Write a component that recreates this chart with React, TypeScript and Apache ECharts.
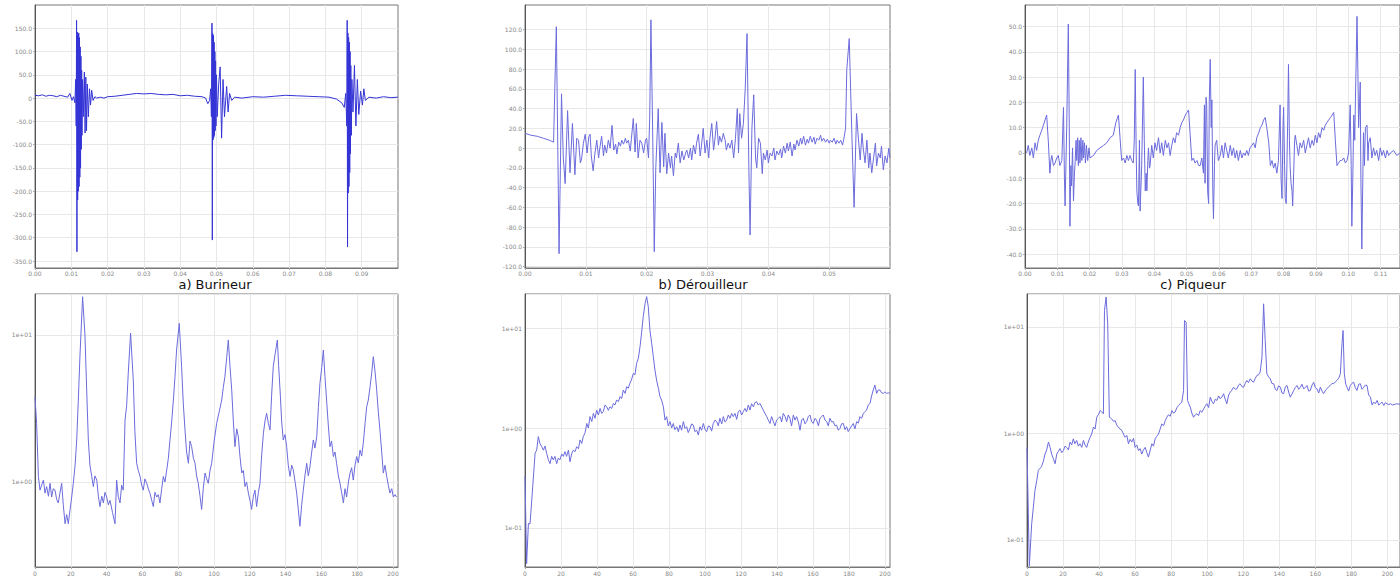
import React, { useEffect, useRef } from "react";
import * as echarts from "echarts";

// ---- Top row: time signals (t in ms, amplitude) ----
const burineur: number[][] = [
  [0,6],[1,5],[2,7],[3,4],[4,6],[5,5],[6,3],[7,6],[8,4],[9,2],[9.6,10],[10.2,-5],[10.6,3],
  [11.0,-10],[11.2,40],[11.35,-60],[11.45,167],[11.55,-330],[11.65,142],[11.75,-219],[11.85,135],[11.95,-200],
  [12.05,140],[12.15,-190],[12.25,130],[12.35,-170],[12.45,110],[12.55,-150],[12.65,90],[12.75,-110],[12.85,60],
  [12.95,-80],[13.1,40],[13.3,-40],[13.6,56],[13.8,-75],[14.0,45],[14.2,-70],[14.4,30],[14.7,-40],[15.0,20],
  [15.3,-15],[15.6,17],[16.0,-5],[16.5,3],[17,0],[18,2],[19,0],[20,3],[22,4],[24,6],[26,8],[28,10],[30,9],
  [32,10],[34,8],[36,7],[38,8],[40,5],[42,6],[44,4],[46,3],[47,0],[47.6,-12],[48.1,-5],
  [48.4,20],[48.6,-40],[48.75,161],[48.85,-305],[48.95,139],[49.05,-90],[49.15,135],[49.25,-85],[49.35,120],
  [49.45,-80],[49.55,100],[49.65,-70],[49.75,80],[49.85,-60],[50.0,50],[50.2,-40],[50.6,30],[51.0,67],[51.4,-86],
  [51.8,40],[52.2,-40],[52.8,25],[53.2,-30],[53.6,10],[54.2,-5],[55,2],[57,0],[60,3],[63,2],[66,4],[69,6],
  [72,5],[75,4],[78,3],[81,2],[83,-2],[84.5,-10],[85.2,-20],[85.6,10],
  [85.9,-60],[86.0,167],[86.1,-320],[86.2,140],[86.3,-204],[86.4,130],[86.5,-190],[86.6,120],[86.7,-160],
  [86.8,100],[86.9,-120],[87.0,70],[87.15,-80],[87.3,40],[87.6,-30],[88.0,70],[88.4,-60],[88.8,40],[89.2,-35],
  [89.7,15],[90.2,-15],[90.6,20],[91.0,-5],[92,2],[94,0],[96,3],[98,1],[100,2]
];

const derouilleur: number[][] = [
  [0,15],[1,13],[2,12],[3,10],[4,8],[4.7,6],[4.9,60],[5.15,123],[5.6,-107],[6.0,55],[6.3,-10],[6.6,-36],[7.0,38],
  [7.4,-25],[7.8,25],[8.2,-27],[8.5,10],[8.8,8],[9.1,-15],[9.3,-11],[9.6,5],[9.9,14],[10.2,-5],[10.5,12],[10.7,14],
  [10.9,-8],[11.2,-23],[11.5,-5],[11.8,8],[12.1,-10],[12.3,0],[12.6,12],[12.9,-8],[13.1,3],[13.4,-5],[13.7,8],
  [14.0,0],[14.3,23],[14.6,-2],[14.9,4],[15.1,-6],[15.4,6],[15.7,2],[15.9,8],[16.2,4],[16.5,10],[16.7,5],[17.0,8],
  [17.3,-3],[17.5,10],[17.8,30],[18.1,-4],[18.3,25],[18.6,-10],[18.9,8],[19.2,5],[19.5,-5],[19.8,8],[20.0,10],
  [20.3,-10],[20.5,30],[20.7,130],[21.0,10],[21.25,-105],[21.5,-20],[21.7,10],[21.9,40],[22.2,-25],[22.5,26],
  [22.8,-19],[23.0,15],[23.3,-26],[23.6,-5],[23.9,-20],[24.1,-8],[24.4,-28],[24.7,-5],[24.9,-10],[25.2,5],
  [25.5,-15],[25.8,-3],[26.1,-12],[26.4,-5],[26.6,-2],[26.9,-10],[27.2,0],[27.4,-12],[27.7,3],[28.0,-6],[28.2,5],
  [28.5,14],[28.8,-8],[29.0,2],[29.3,20],[29.6,-5],[29.9,8],[30.2,-10],[30.4,10],[30.7,25],[31.0,-2],[31.2,8],
  [31.5,27],[31.8,3],[32.0,12],[32.3,6],[32.6,15],[32.9,8],[33.1,-2],[33.4,5],[33.7,0],[34.0,8],[34.3,-10],
  [34.6,10],[34.9,40],[35.1,-5],[35.3,35],[35.6,10],[35.9,25],[36.2,60],[36.5,116],[36.8,-20],[37.0,-88],[37.3,20],
  [37.6,54],[37.9,-10],[38.1,-20],[38.4,10],[38.7,5],[39.0,-26],[39.2,-5],[39.5,-12],[39.8,-2],[40.0,-15],
  [40.3,-5],[40.6,-8],[40.9,0],[41.1,-12],[41.4,-3],[41.7,-7],[42.0,-1],[42.2,-10],[42.5,2],[42.8,-5],[43.1,5],
  [43.3,-3],[43.6,6],[43.9,-8],[44.2,4],[44.4,-2],[44.7,8],[45.0,2],[45.3,10],[45.5,4],[45.8,12],[46.1,3],
  [46.4,9],[46.6,5],[46.9,12],[47.2,6],[47.5,11],[47.7,4],[48.0,10],[48.3,8],[48.6,13],[48.8,7],[49.1,10],
  [49.4,6],[49.7,9],[50.0,5],[50.2,8],[50.5,6],[50.8,10],[51.1,4],[51.3,8],[51.6,5],[51.9,8],[52.2,3],[52.4,9],
  [52.7,20],[52.9,80],[53.3,111],[53.7,20],[54.1,-60],[54.5,35],[54.8,10],[55.1,-12],[55.4,15],[55.6,0],
  [55.9,-15],[56.2,8],[56.5,-20],[56.7,-5],[57.0,-25],[57.3,-10],[57.6,5],[57.8,-18],[58.1,-5],[58.4,-10],
  [58.6,2],[58.9,-22],[59.2,-8],[59.5,-15],[59.8,0],[60,-10]
];

const piqueur: number[][] = [
  [0.5,0],[1.0,3],[1.5,-1],[2.1,2],[2.6,-2],[3.1,4],[3.6,1],[4.1,5],[4.6,7],[5.2,9],[5.7,11],[6.2,13],[6.7,15],
  [7.2,5],[7.7,-8],[8.0,-3],[8.3,-1],[8.8,-5],[9.3,-4],[9.8,-2],[10.3,-1],[10.8,-5],[11.4,-3],[11.9,18],[12.2,-10],
  [12.4,-21],[12.9,10],[13.4,51],[13.7,10],[13.9,-29],[14.2,-5],[14.4,-13],[14.7,2],[15.0,-19],[15.3,-8],[15.5,-4],
  [15.8,5],[16.0,-3],[16.3,6],[16.5,-5],[16.8,5],[17.0,-4],[17.3,6],[17.6,-3],[17.9,5],[18.1,-2],[18.4,4],
  [18.7,-4],[19.0,3],[19.4,-3],[19.8,2],[20.1,-2],[21.2,-1],[22.2,1],[23.2,2],[24.3,3],[25.3,4],[26.3,6],[27.3,7],
  [28.1,12],[28.9,15],[29.4,6],[29.9,-3],[30.5,-2],[31.0,-4],[31.5,-1],[32.0,-3],[32.5,-1],[33.0,-3],[33.5,-4],
  [33.8,5],[34.1,33],[34.4,0],[34.6,-15],[34.9,-20],[35.1,-21],[35.4,5],[35.6,-23],[36.1,-5],[36.6,30],[36.9,5],
  [37.2,-15],[37.5,-8],[37.7,-15],[38.0,-3],[38.2,2],[38.5,-6],[38.7,-5],[39.2,3],[39.7,-2],[40.2,4],[40.7,1],
  [41.3,6],[41.8,0],[42.3,4],[42.8,-1],[43.4,5],[43.9,2],[44.4,4],[44.9,-1],[45.4,3],[45.9,6],[46.4,4],[46.9,8],
  [47.5,7],[48.0,10],[48.5,12],[49.0,13],[49.6,15],[50.1,16],[50.6,17],[51.1,7],[51.6,-3],[52.1,-2],[52.6,-4],
  [53.2,-3],[53.7,-5],[54.2,-5],[54.7,-2],[55.2,-8],[55.5,19],[55.7,-12],[56.0,22],[56.2,19],[56.5,-15],
  [56.8,-20],[57.0,20],[57.3,37],[57.6,10],[57.8,21],[58.1,-15],[58.3,-26],[58.6,-5],[58.8,3],[59.3,5],[59.8,-3],
  [60.4,-1],[60.9,3],[61.4,-2],[61.9,4],[62.4,1],[62.9,-2],[63.5,3],[64.0,-1],[64.5,2],[65.0,-2],[65.5,1],
  [66.0,-3],[66.6,1],[67.1,-2],[67.6,0],[68.1,-1],[68.6,1],[69.1,-1],[69.6,2],[70.2,3],[70.7,4],[71.2,2],
  [71.7,6],[72.3,8],[72.8,10],[73.3,11],[73.8,13],[74.3,14],[74.8,10],[75.4,4],[75.9,-5],[76.4,-3],[76.9,-6],
  [77.4,-4],[77.9,-8],[78.4,-3],[78.9,19],[79.2,-10],[79.5,-18],[79.8,10],[80.0,18],[80.3,-5],[80.5,-18],
  [80.8,-20],[81.0,-20],[81.3,15],[81.5,35],[81.8,5],[82.0,-5],[82.3,-12],[82.6,-15],[82.8,-21],[83.1,-8],
  [83.4,5],[83.6,7],[84.1,3],[84.6,-1],[85.1,4],[85.6,2],[86.2,5],[86.7,0],[87.2,3],[87.7,6],[88.2,2],[88.8,5],
  [89.3,3],[89.8,7],[90.3,4],[90.8,8],[91.3,6],[91.9,10],[92.4,9],[92.9,11],[93.4,12],[93.9,13],[94.5,14],
  [95.0,15],[95.5,16],[96.0,5],[96.5,-5],[97.0,-4],[97.5,-3],[98.0,-3],[98.6,-2],[99.1,-4],[99.6,-3],[100.1,0],
  [100.6,19],[100.9,-5],[101.1,-29],[101.4,-10],[101.7,15],[102.0,5],[102.2,20],[102.5,40],[102.7,54],[103.0,30],
  [103.2,10],[103.5,20],[103.7,28],[103.9,-10],[104.2,-38],[104.5,-10],[104.7,8],[105.0,-5],[105.3,10],[105.8,11],
  [106.1,-3],[106.3,4],[106.8,6],[107.3,-2],[107.8,2],[108.3,-1],[108.8,1],[109.4,-3],[109.9,2],[110.4,-1],
  [110.9,1],[111.5,-2],[112.0,1],[112.5,-1],[113.0,0],[114,1],[115,-1],[116,0]
];

// ---- Bottom row: spectra (frequency, magnitude on log scale) ----
const spectreBurineur: number[][] = [
  [0,3.8],[0.9,2.5],[1.9,1.09],[2.8,0.88],[3.8,0.96],[4.7,1.03],[5.6,0.84],[6.5,0.93],[7.5,0.8],[8.4,0.98],[9.3,0.79],
  [10.2,0.9],[11.2,0.88],[12.1,0.76],[13.0,0.72],[14.0,0.85],[14.9,0.98],[15.8,0.7],[16.8,0.52],[17.7,0.6],[18.6,0.52],
  [19.6,0.65],[20.5,0.79],[21.4,0.98],[22.4,1.3],[23.3,1.93],[24.2,3.6],[25.1,7.12],[26.6,18.2],[27.9,10],[28.8,4.5],
  [29.8,1.93],[30.7,1.3],[31.7,1.09],[32.6,0.93],[33.5,1.1],[34.5,1.03],[35.4,0.8],[36.3,0.68],[37.3,0.8],[38.2,0.72],
  [39.1,0.85],[40.0,0.79],[41.0,0.7],[41.9,0.75],[43.3,0.62],[44.7,0.52],[45.6,1.03],[46.5,0.8],[47.5,0.72],
  [48.4,0.95],[49.3,0.88],[50.3,2.64],[51.2,3.3],[52.1,5.49],[53.4,10.3],[54.9,4.94],[55.8,2.2],[56.8,1.34],
  [57.7,1.2],[58.7,1.09],[59.6,0.95],[60.5,0.88],[61.4,1.05],[62.4,0.98],[63.3,0.9],[64.2,0.84],[65.2,0.75],
  [66.1,0.68],[67.0,0.85],[68.0,0.79],[68.9,0.82],[69.8,0.72],[70.8,0.9],[71.7,1.09],[72.6,1.0],[73.6,1.21],
  [74.5,1.45],[75.4,1.93],[76.4,2.6],[77.3,3.61],[78.2,5.2],[79.1,7.9],[80.6,12.0],[81.9,6.09],[82.8,3.5],
  [83.8,2.26],[84.7,1.6],[85.7,1.34],[86.6,1.9],[87.5,1.74],[88.5,1.45],[89.4,1.34],[90.3,1.1],[91.2,0.98],
  [92.2,0.8],[93.1,0.65],[94.0,0.9],[95.0,1.15],[95.9,1.05],[96.8,0.98],[97.8,1.2],[98.7,1.34],[100.1,1.9],
  [101.5,2.51],[102.9,3.0],[104.3,3.61],[105.2,4.4],[106.1,5.21],[107.1,7.0],[108.0,9.25],[108.9,6.2],[109.9,4.23],
  [110.8,2.6],[111.7,1.74],[112.7,2.3],[113.6,2.03],[114.5,1.5],[115.5,1.15],[116.4,1.2],[117.3,0.93],[118.2,1.0],
  [119.2,0.84],[120.1,0.75],[121.0,0.65],[122.0,0.8],[122.9,0.88],[123.8,0.68],[124.8,0.85],[125.7,0.98],
  [126.6,1.5],[127.6,2.14],[128.5,2.6],[129.4,2.93],[130.4,2.5],[131.3,2.26],[132.2,3.9],[133.1,6.09],[134.2,7.5],
  [135.4,9.25],[136.1,6.2],[136.9,4.23],[137.8,2.6],[138.7,1.93],[139.7,2.1],[140.6,1.74],[141.5,1.3],[142.5,1.09],
  [143.4,1.3],[144.3,1.21],[145.3,1.0],[146.2,0.84],[147.1,0.65],[148.0,0.5],[149.0,0.7],[149.9,0.88],[150.8,1.1],
  [151.8,1.34],[152.7,1.1],[153.6,1.27],[154.6,1.6],[155.5,1.93],[156.4,1.7],[157.4,2.03],[158.3,3.2],[159.2,4.69],
  [160.2,6.0],[161.1,7.9],[162.0,5.2],[162.9,3.61],[163.9,2.4],[164.8,1.74],[165.7,1.9],[166.7,1.49],[167.6,1.6],
  [168.5,1.34],[169.5,1.1],[170.4,0.98],[171.3,0.85],[172.3,0.72],[173.2,0.9],[174.1,0.79],[175.1,1.0],[176.0,1.15],
  [176.9,1.25],[177.8,1.03],[178.8,1.3],[179.7,1.49],[180.6,1.35],[181.6,1.65],[182.5,1.5],[183.4,1.83],
  [184.4,2.5],[185.3,3.25],[186.2,3.6],[187.2,4.45],[188.1,5.5],[189.0,7.12],[190.0,5.6],[190.9,4.23],[191.8,3.0],
  [192.7,2.26],[193.7,1.6],[194.6,1.15],[195.5,1.3],[196.5,1.09],[197.4,0.95],[198.3,0.84],[199.3,0.9],
  [200.2,0.79],[201.1,0.82],[202.0,0.79]
];

const spectreDerouilleur: number[][] = [
  [0,0.33],[0.9,0.044],[1.9,0.111],[2.8,0.11],[4.3,0.26],[5.6,0.56],[6.5,0.60],[7.4,0.82],[8.3,0.70],[9.3,0.65],
  [10.2,0.60],[11.1,0.66],[12.0,0.56],[13.0,0.48],[13.9,0.44],[14.8,0.52],[15.7,0.48],[16.6,0.52],[17.6,0.44],
  [18.5,0.50],[19.4,0.48],[20.4,0.55],[21.3,0.52],[22.2,0.58],[23.1,0.52],[24.1,0.60],[25.0,0.46],[26.0,0.56],
  [26.9,0.60],[27.8,0.58],[28.7,0.65],[29.7,0.62],[30.6,0.76],[31.5,0.70],[32.4,0.82],[33.4,0.90],[34.3,1.11],
  [35.2,1.00],[36.1,1.30],[37.1,1.16],[38.0,1.40],[38.9,1.25],[39.8,1.51],[40.8,1.35],[41.7,1.57],[42.6,1.40],
  [43.5,1.46],[44.5,1.70],[45.4,1.63],[46.3,1.50],[47.2,1.63],[48.2,1.57],[49.1,1.76],[50.0,1.70],[50.9,1.91],
  [51.9,1.83],[52.8,2.06],[53.7,1.97],[54.6,2.40],[55.6,2.22],[56.5,2.59],[57.4,2.50],[58.3,2.80],[59.3,3.10],
  [60.2,3.52],[61.1,3.40],[62.0,4.43],[63.0,5.0],[63.9,6.5],[64.8,9.0],[65.7,13.0],[66.7,17.5],[67.6,20.6],
  [68.5,16.3],[69.4,9.55],[70.4,7.0],[71.3,5.17],[72.2,3.8],[73.1,3.02],[74.1,2.5],[75.0,2.06],[75.9,1.9],
  [76.9,1.63],[77.8,1.20],[78.7,1.30],[79.6,1.05],[80.6,1.16],[81.5,1.00],[82.4,1.11],[83.3,0.96],[84.3,1.03],
  [85.2,0.92],[86.1,1.07],[87.0,0.95],[88.0,1.16],[88.9,0.99],[89.8,1.03],[90.7,0.90],[91.7,0.99],[92.6,1.10],
  [93.5,1.07],[94.4,0.92],[95.4,0.95],[96.3,0.85],[97.2,1.03],[98.1,0.95],[99.1,1.11],[100.0,0.97],[100.9,0.92],
  [101.9,1.05],[102.8,1.03],[103.7,0.93],[104.6,1.11],[105.6,1.20],[106.5,1.16],[107.4,1.05],[108.3,1.25],
  [109.3,1.10],[110.2,1.30],[111.1,1.15],[112.0,1.20],[113.0,1.35],[113.9,1.25],[114.8,1.40],[115.7,1.30],
  [116.7,1.40],[117.6,1.22],[118.5,1.46],[119.4,1.51],[120.4,1.35],[121.3,1.46],[122.2,1.57],[123.1,1.45],
  [124.1,1.70],[125.0,1.51],[125.9,1.75],[126.9,1.63],[127.8,1.80],[128.7,1.83],[129.6,1.70],[130.6,1.76],
  [131.5,1.62],[132.4,1.51],[133.3,1.40],[134.3,1.30],[135.2,1.20],[136.1,1.11],[137.0,1.30],[138.0,1.16],
  [138.9,1.05],[139.8,1.20],[140.8,1.25],[141.7,1.30],[142.6,1.15],[143.5,1.40],[144.5,1.30],[145.4,1.16],
  [146.3,1.35],[147.2,1.25],[148.1,1.05],[149.1,1.35],[150.0,1.20],[150.9,1.30],[151.9,1.15],[152.8,0.95],
  [153.7,1.20],[154.6,1.25],[155.6,1.10],[156.5,1.16],[157.4,1.30],[158.3,1.35],[159.3,1.15],[160.2,1.11],
  [161.1,1.25],[162.0,1.20],[163.0,1.05],[163.9,1.25],[164.8,1.30],[165.7,1.35],[166.7,1.20],[167.6,1.16],
  [168.5,1.05],[169.4,1.25],[170.4,1.15],[171.3,1.16],[172.2,1.05],[173.1,1.07],[174.1,0.95],[175.0,0.99],
  [175.9,1.10],[176.9,1.11],[177.8,0.96],[178.7,1.03],[179.6,0.92],[180.6,0.99],[181.5,1.05],[182.4,1.11],
  [183.3,0.98],[184.3,1.16],[185.2,1.12],[186.1,1.30],[187.0,1.25],[188.0,1.40],[188.9,1.46],[189.8,1.51],
  [190.7,1.70],[191.7,1.76],[192.6,2.10],[193.5,2.40],[194.4,2.69],[195.4,2.22],[196.3,2.40],[197.2,2.40],
  [198.1,2.25],[199.1,2.22],[200.0,2.30],[200.9,2.22],[202.0,2.25],[202.8,2.22]
];

const spectrePiqueur: number[][] = [
  [0,0.74],[1.3,0.057],[2.6,0.142],[3.5,0.2],[4.4,0.29],[5.4,0.36],[6.3,0.45],[7.2,0.47],[8.1,0.49],[9.1,0.55],
  [10.0,0.64],[10.9,0.70],[11.9,0.83],[12.8,0.74],[13.7,0.64],[14.6,0.58],[15.6,0.52],[16.5,0.64],[17.4,0.68],
  [18.3,0.72],[19.3,0.66],[20.2,0.69],[21.1,0.76],[22.0,0.74],[23.0,0.70],[23.9,0.83],[24.8,0.78],[25.7,0.89],
  [26.6,0.80],[27.6,0.86],[28.5,0.76],[29.4,0.80],[30.4,0.74],[31.3,0.86],[32.2,0.78],[33.1,0.74],[34.0,0.83],
  [35.0,0.92],[35.9,0.99],[36.9,1.15],[37.8,1.10],[38.7,1.42],[39.6,1.50],[40.6,1.64],[41.5,1.59],[42.4,1.53],
  [43.0,14.3],[43.9,19.1],[44.8,10.7],[45.7,1.42],[46.4,1.40],[47.0,1.37],[48.0,1.30],[48.9,1.32],[49.8,1.20],
  [50.7,1.15],[51.6,1.10],[52.6,1.07],[53.5,0.99],[54.4,0.92],[55.4,0.96],[56.3,0.80],[57.2,0.88],[58.1,0.83],
  [59.1,0.90],[60.0,0.74],[60.9,0.78],[61.9,0.69],[62.8,0.72],[63.7,0.64],[64.6,0.70],[65.6,0.74],[66.5,0.66],
  [67.4,0.60],[68.4,0.70],[69.3,0.80],[70.2,0.76],[71.1,0.89],[72.0,0.94],[73.0,0.99],[73.9,1.10],[74.8,1.23],
  [75.8,1.18],[76.7,1.32],[77.6,1.42],[78.5,1.50],[79.5,1.45],[80.4,1.64],[81.3,1.55],[82.2,1.59],[83.2,1.75],
  [84.1,1.83],[85.0,1.90],[85.9,1.97],[86.9,2.53],[87.4,11.5],[88.3,11.1],[89.1,2.04],[89.8,1.90],[90.6,1.77],
  [91.5,1.55],[92.4,1.42],[93.4,1.50],[94.3,1.53],[95.2,1.47],[96.1,1.64],[97.1,1.58],[98.0,1.70],[98.9,1.80],
  [99.8,1.90],[100.8,1.75],[101.7,2.19],[102.6,2.00],[103.5,1.90],[104.5,2.10],[105.4,2.04],[106.3,2.25],
  [107.2,2.12],[108.2,2.20],[109.1,2.36],[110.0,2.10],[110.9,1.90],[111.9,2.30],[112.8,2.44],[113.7,2.55],
  [114.6,2.72],[115.6,2.60],[116.5,2.63],[117.4,2.85],[118.3,2.93],[119.3,2.75],[120.2,2.72],[121.1,2.95],
  [122.0,3.15],[122.9,3.00],[123.9,3.26],[124.8,3.10],[125.7,3.03],[126.7,3.30],[127.6,3.51],[128.5,3.55],
  [129.4,3.77],[130.4,5.21],[131.3,16.5],[132.2,7.47],[133.1,3.63],[134.1,3.40],[135.0,3.26],[135.9,2.95],
  [136.9,2.93],[137.8,2.60],[138.7,2.53],[139.6,2.80],[140.6,2.72],[141.5,2.40],[142.4,2.36],[143.4,2.75],
  [144.3,2.82],[145.2,2.45],[146.1,2.19],[147.1,2.35],[148.0,2.53],[148.9,2.70],[149.8,2.82],[150.8,2.60],
  [151.7,2.72],[152.6,2.90],[153.5,2.63],[154.5,2.70],[155.4,2.82],[156.3,2.50],[157.2,2.53],[158.2,2.85],
  [159.1,3.03],[160.0,2.70],[160.9,2.63],[161.9,2.40],[162.8,2.72],[163.7,2.50],[164.6,2.36],[165.6,2.55],
  [166.5,2.63],[167.4,2.75],[168.3,2.82],[169.3,2.95],[170.2,2.93],[171.1,3.05],[172.0,3.15],[173.0,3.30],
  [173.9,3.63],[174.8,6.95],[175.4,9.27],[176.1,3.63],[176.9,2.90],[177.6,2.72],[178.5,2.50],[179.4,2.82],
  [180.3,2.95],[181.3,3.03],[182.2,2.70],[183.1,2.53],[184.1,2.90],[185.0,2.93],[185.9,2.60],[186.9,2.72],
  [187.8,2.85],[188.7,2.82],[189.6,2.30],[190.6,2.19],[191.5,1.85],[192.4,1.97],[193.3,1.90],[194.3,2.04],
  [195.2,1.85],[196.1,1.90],[197.0,1.97],[198.0,1.83],[198.9,1.95],[199.8,1.90],[200.8,1.87],[201.7,1.90],
  [203,1.85],[205,1.90],[207,1.88]
];

// ---- Ticks ----
const ticksTimeA = [0, 10, 20, 30, 40, 50, 60, 70, 80, 90];
const ticksTimeB = [0, 10, 20, 30, 40, 50];
const ticksTimeC = [0, 10, 20, 30, 40, 50, 60, 70, 80, 90, 100, 110];
const ticksAmpA = [-350, -300, -250, -200, -150, -100, -50, 0, 50, 100, 150];
const ticksAmpB = [-120, -100, -80, -60, -40, -20, 0, 20, 40, 60, 80, 100, 120];
const ticksAmpC = [-40, -30, -20, -10, 0, 10, 20, 30, 40, 50];
const ticksFreq = [0, 20, 40, 60, 80, 100, 120, 140, 160, 180, 200];

const titles = ["a) Burineur", "b) Dérouilleur", "c) Piqueur"];

const lineColorDark = "#3434d6";
const lineColor = "#6b6bdc";

const labelStyle = { fontSize: 6, color: "#888", fontFamily: "DejaVu Sans" };

function xTime(gridIndex: number, max: number, ticks: number[]) {
  return {
    type: "value", gridIndex, min: 0, max, interval: 10,
    axisLine: { show: true, onZero: false, lineStyle: { color: "#777" } },
    axisTick: { show: true, customValues: ticks, length: 2, lineStyle: { color: "#aaa" } },
    axisLabel: { ...labelStyle, margin: 2, customValues: ticks, formatter: (v: number) => (v / 1000).toFixed(2) },
    splitLine: { show: true, lineStyle: { color: "#e8e8e8" } },
  };
}
function yAmp(gridIndex: number, min: number, max: number, ticks: number[]) {
  return {
    type: "value", gridIndex, min, max,
    axisLine: { show: true, onZero: false, lineStyle: { color: "#555" } },
    axisTick: { show: true, customValues: ticks, length: 2, lineStyle: { color: "#aaa" } },
    axisLabel: { ...labelStyle, margin: 3, customValues: ticks, formatter: (v: number) => (v === 0 ? "0" : v.toFixed(1)) },
    splitLine: { show: true, lineStyle: { color: "#e8e8e8" } },
  };
}
function xFreq(gridIndex: number, max: number) {
  return {
    type: "value", gridIndex, min: 0, max, interval: 20,
    axisLine: { show: true, onZero: false, lineStyle: { color: "#777" } },
    axisTick: { show: true, customValues: ticksFreq, length: 2, lineStyle: { color: "#aaa" } },
    axisLabel: { ...labelStyle, margin: 3, customValues: ticksFreq, formatter: (v: number) => String(v) },
    splitLine: { show: true, lineStyle: { color: "#e8e8e8" } },
  };
}
function yLog(gridIndex: number, min: number, max: number) {
  return {
    type: "log", logBase: 10, gridIndex, min, max,
    axisLine: { show: true, onZero: false, lineStyle: { color: "#555" } },
    axisTick: { show: false },
    axisLabel: {
      ...labelStyle, margin: 3,
      formatter: (v: number) => {
        const e = Math.log10(v);
        const r = Math.round(e);
        if (Math.abs(e - r) > 1e-6) return "";
        return "1e" + (r < 0 ? "-" : "+") + String(Math.abs(r)).padStart(2, "0");
      },
    },
    splitLine: { show: true, lineStyle: { color: "#e8e8e8" } },
  };
}
function series(i: number, data: number[][], color: string) {
  return {
    type: "line", xAxisIndex: i, yAxisIndex: i, data, showSymbol: false, symbol: "none",
    lineStyle: { width: 1, color }, itemStyle: { color }, silent: true, clip: true,
  };
}

const gridStyle = { show: true, borderColor: "#777", borderWidth: 1, backgroundColor: "#fff" };

export default function App() {
  const ref = useRef<HTMLDivElement>(null);
  useEffect(() => {
    const chart = echarts.init(ref.current!, null, { renderer: "svg" });
    chart.setOption({
      animation: false,
      backgroundColor: "#fff",
      title: [
        { text: titles[0], left: 215, top: 277, textAlign: "center" },
        { text: titles[1], left: 703, top: 277, textAlign: "center" },
        { text: titles[2], left: 1193, top: 277, textAlign: "center" },
      ].map((t) => ({ ...t, padding: 0, textStyle: { fontSize: 13, lineHeight: 14, fontWeight: "normal", fontFamily: "DejaVu Sans", color: "#111" } })),
      grid: [
        { left: 35, top: 5, width: 363, height: 263, ...gridStyle },
        { left: 525, top: 5, width: 365, height: 263, ...gridStyle },
        { left: 1025, top: 5, width: 375, height: 263, ...gridStyle },
        { left: 35, top: 294, width: 363, height: 273, ...gridStyle },
        { left: 525, top: 294, width: 365, height: 273, ...gridStyle },
        { left: 1027, top: 294, width: 373, height: 273, ...gridStyle },
      ],
      xAxis: [
        xTime(0, 100, ticksTimeA),
        xTime(1, 60, ticksTimeB),
        xTime(2, 116, ticksTimeC),
        xFreq(3, 202.8),
        xFreq(4, 202.8),
        xFreq(5, 207),
      ],
      yAxis: [
        yAmp(0, -365, 200, ticksAmpA),
        yAmp(1, -121.5, 145, ticksAmpB),
        yAmp(2, -45.5, 58.5, ticksAmpC),
        yLog(3, 0.264, 19.0),
        yLog(4, 0.0407, 21.9),
        yLog(5, 0.0557, 20.4),
      ],
      series: [
        series(0, burineur, lineColorDark),
        series(1, derouilleur, lineColor),
        series(2, piqueur, lineColor),
        series(3, spectreBurineur, lineColor),
        series(4, spectreDerouilleur, lineColor),
        series(5, spectrePiqueur, lineColor),
      ],
    });
    return () => chart.dispose();
  }, []);
  return (
    <div
      ref={ref}
      style={{ position: "absolute", left: 0, top: 0, width: 1400, height: 579, background: "#fff" }}
    />
  );
}
